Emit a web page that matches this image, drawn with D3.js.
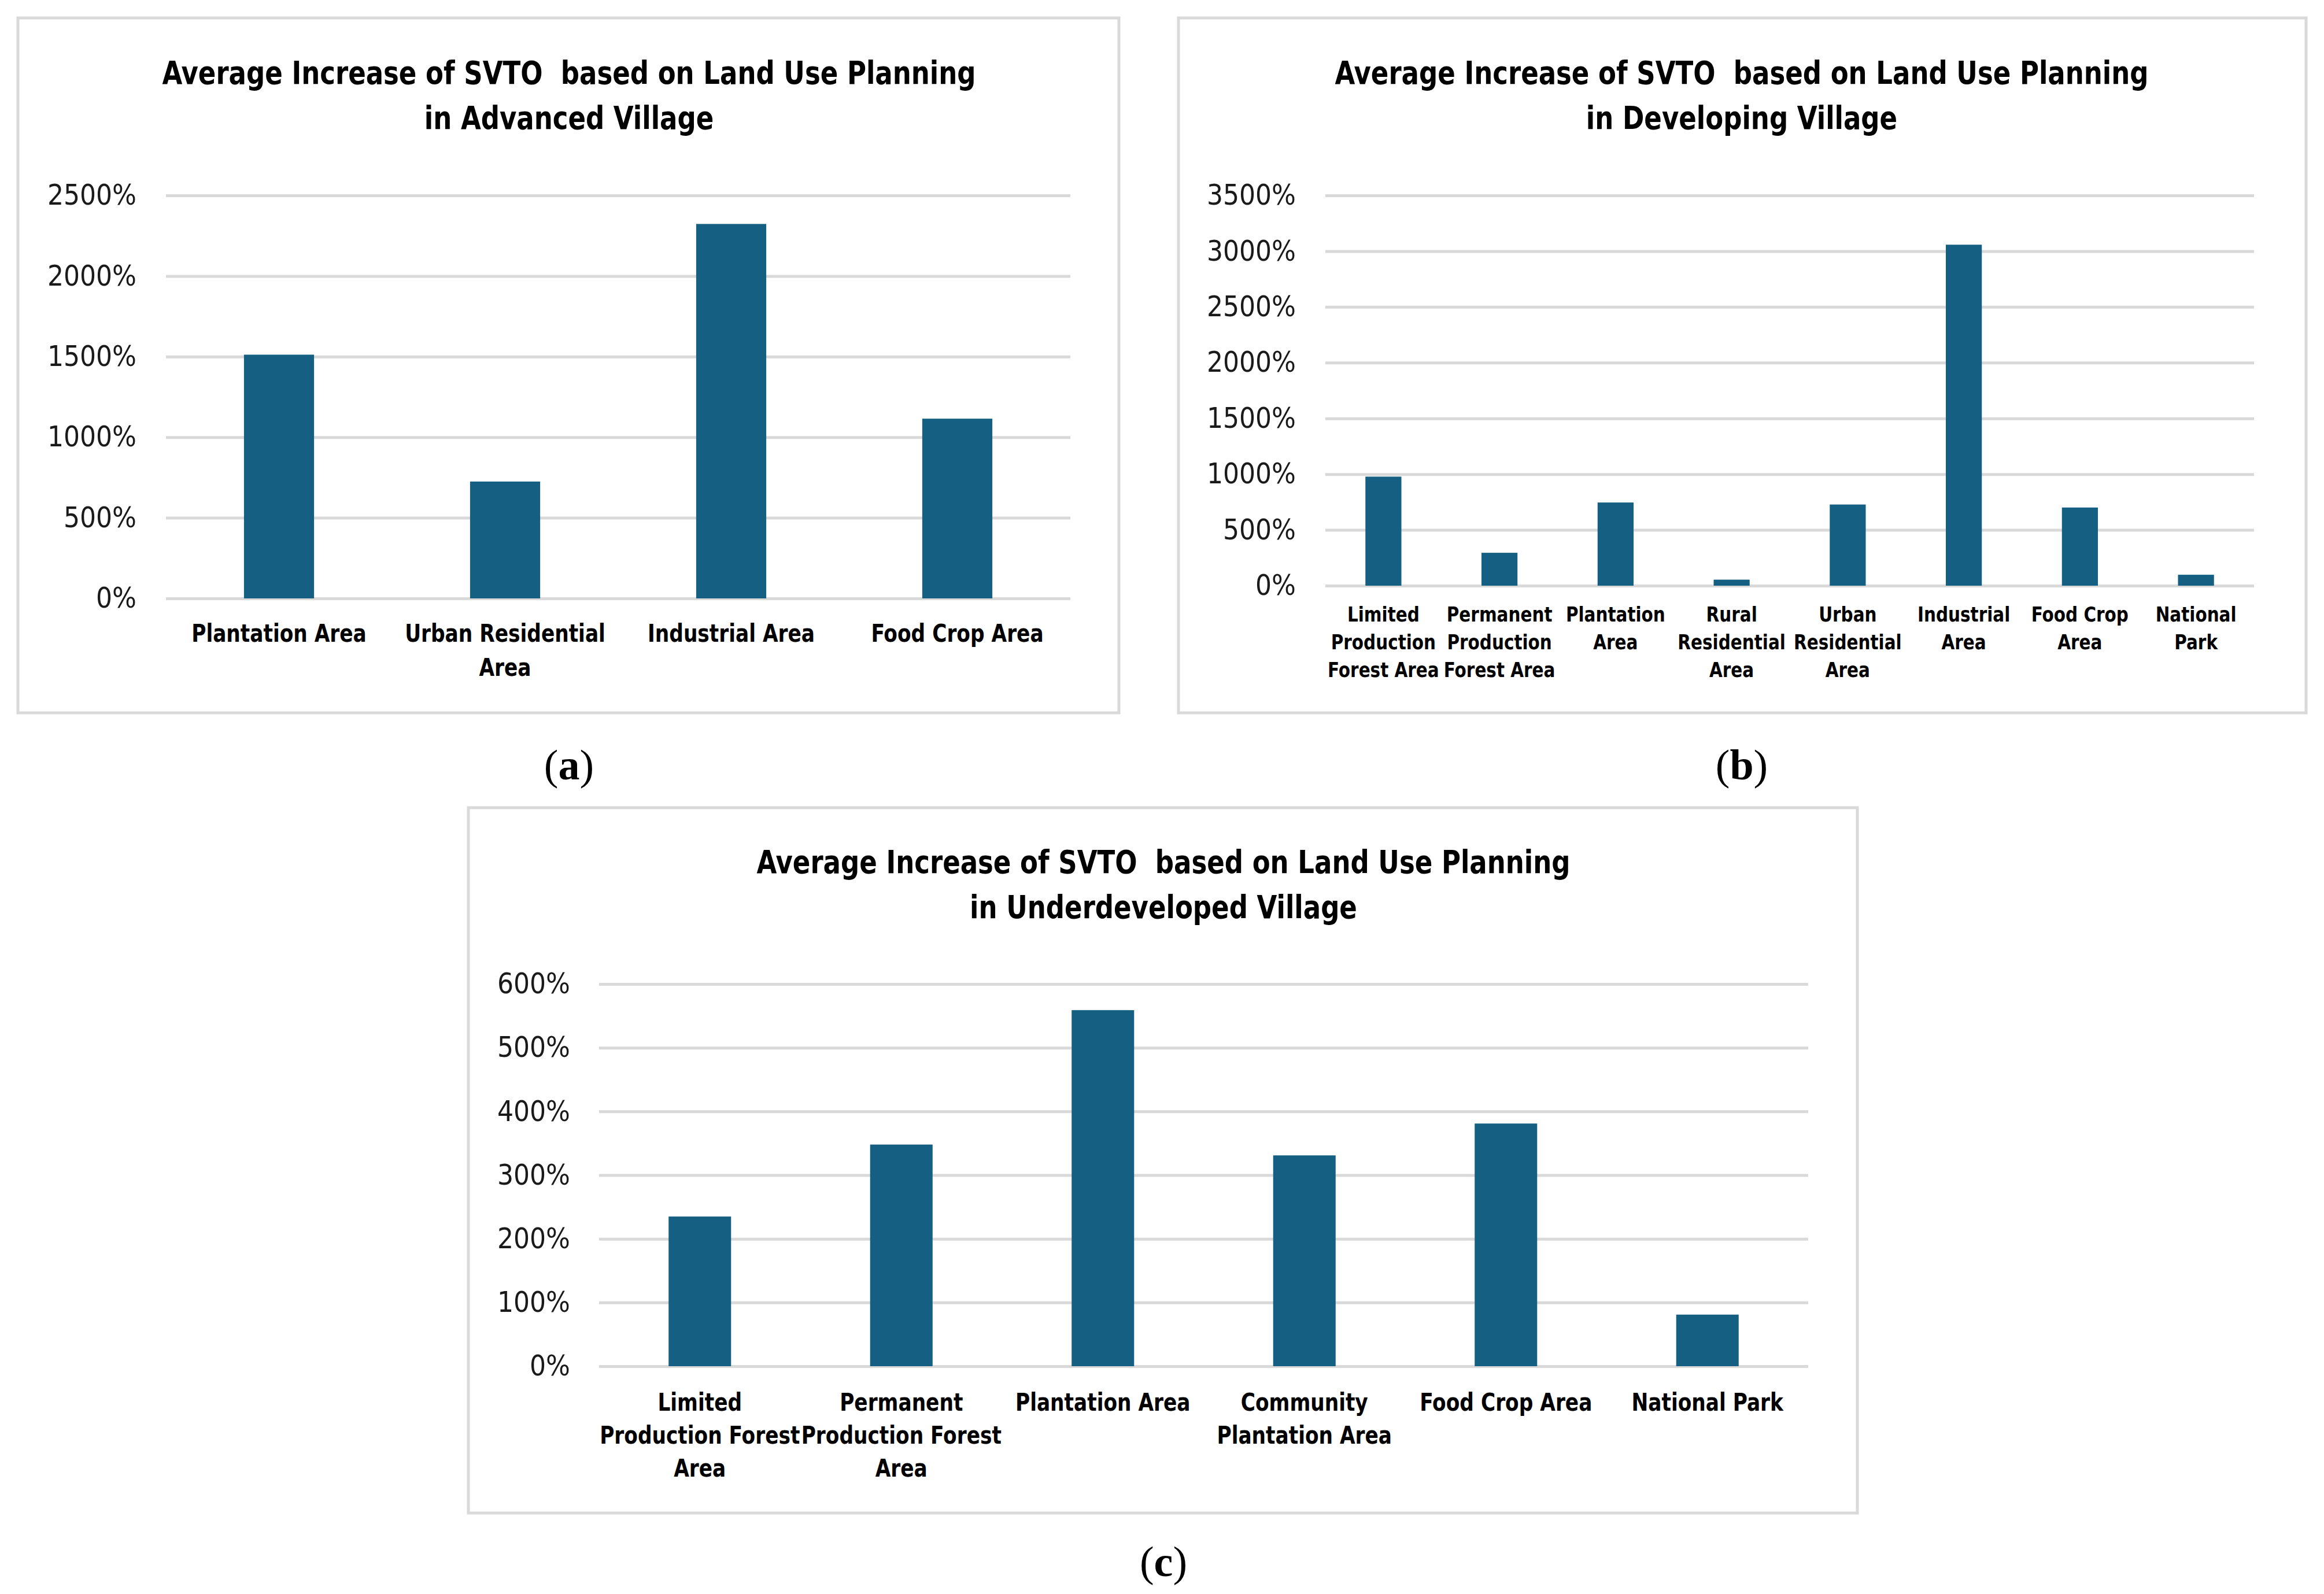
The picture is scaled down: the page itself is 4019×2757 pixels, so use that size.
<!DOCTYPE html>
<html>
<head>
<meta charset="utf-8">
<script src="https://cdn.jsdelivr.net/npm/d3@7"></script>
<style>
  body { margin: 0; background: #fff; }
  text { white-space: pre; }
</style>
</head>
<body>
<svg id="fig" width="4019" height="2757"></svg>
<script>
// panel (a) advanced village
var catsA = ["Plantation Area", "Urban Residential\nArea", "Industrial Area", "Food Crop Area"];
var valsA = [1512, 725, 2323, 1115];
var ticksA = [0, 500, 1000, 1500, 2000, 2500];

// panel (b) developing village
var catsB = ["Limited\nProduction\nForest Area", "Permanent\nProduction\nForest Area", "Plantation\nArea",
  "Rural\nResidential\nArea", "Urban\nResidential\nArea", "Industrial\nArea", "Food Crop\nArea", "National\nPark"];
var valsB = [978, 295, 746, 54, 728, 3058, 701, 98];
var ticksB = [0, 500, 1000, 1500, 2000, 2500, 3000, 3500];

// panel (c) underdeveloped village
var catsC = ["Limited\nProduction Forest\nArea", "Permanent\nProduction Forest\nArea", "Plantation Area",
  "Community\nPlantation Area", "Food Crop Area", "National Park"];
var valsC = [235, 348, 559, 331, 381, 81];
var ticksC = [0, 100, 200, 300, 400, 500, 600];

var titleTop = "Average Increase of SVTO  based on Land Use Planning";

var svg = d3.select("#fig");
var barColor = "#156082",
  gridColor = "#d9d9d9",
  boldFont = "'DejaVu Sans Condensed', 'DejaVu Sans', sans-serif",
  tickFont = "'DejaVu Sans Condensed', 'DejaVu Sans', sans-serif",
  squeeze = 0.91; // narrow look of the original bold face

function panel(o) {
  var g = svg.append("g");

  g.append("rect")
    .attr("x", o.box[0]).attr("y", o.box[1])
    .attr("width", o.box[2] - o.box[0]).attr("height", o.box[3] - o.box[1])
    .attr("fill", "#fff").attr("stroke", gridColor).attr("stroke-width", 5);

  g.selectAll("text.title")
    .data(o.title)
    .join("text")
    .attr("class", "title")
    .attr("transform", function (d, i) {
      return "translate(" + o.titleX + "," + (o.titleY + i * 78) + ") scale(" + squeeze + ",1)";
    })
    .attr("text-anchor", "middle")
    .attr("font-family", boldFont)
    .attr("font-stretch", "condensed")
    .attr("font-weight", "bold")
    .attr("font-size", 55)
    .attr("fill", "#000")
    .text(function (d) { return d; });

  var x = d3.scaleBand()
    .domain(o.cats)
    .range([o.plot[0], o.plot[1]])
    .paddingInner(0.69)
    .paddingOuter(0.345);

  var y = d3.scaleLinear()
    .domain([0, d3.max(o.ticks)])
    .range([o.plot[3], o.plot[2]]);

  // gridlines
  g.append("g")
    .attr("transform", "translate(" + o.plot[0] + ",0)")
    .call(d3.axisLeft(y).tickValues(o.ticks).tickSize(-(o.plot[1] - o.plot[0])).tickFormat(""))
    .call(function (a) { a.select(".domain").remove(); })
    .call(function (a) { a.selectAll("line").attr("stroke", gridColor).attr("stroke-width", 5); });

  // tick labels
  g.append("g")
    .attr("transform", "translate(" + o.tickX + ",0)")
    .call(d3.axisLeft(y).tickValues(o.ticks).tickSize(0).tickPadding(0).tickFormat(function (d) { return d + "%"; }))
    .call(function (a) { a.select(".domain").remove(); })
    .call(function (a) {
      a.selectAll("text")
        .attr("font-family", tickFont)
        .attr("font-stretch", "condensed")
        .attr("font-size", 49)
        .attr("fill", "#1a1a1a");
    });

  // bars
  g.selectAll("rect.bar")
    .data(o.vals)
    .join("rect")
    .attr("class", "bar")
    .attr("x", function (d, i) { return x(o.cats[i]); })
    .attr("y", function (d) { return y(d); })
    .attr("width", x.bandwidth())
    .attr("height", function (d) { return y(0) - y(d); })
    .attr("fill", barColor);

  // category labels, wrapped like the original
  var xa = g.append("g")
    .attr("transform", "translate(0," + o.plot[3] + ")")
    .call(d3.axisBottom(x).tickSize(0).tickFormat(""));
  xa.select(".domain").remove();
  xa.selectAll(".tick text").remove();
  xa.selectAll(".tick").each(function (d) {
    var t = d3.select(this).append("text")
      .attr("transform", "scale(" + squeeze + ",1)")
      .attr("text-anchor", "middle")
      .attr("font-family", boldFont)
      .attr("font-stretch", "condensed")
      .attr("font-weight", "bold")
      .attr("font-size", o.labSize)
      .attr("fill", "#000");
    d.split("\n").forEach(function (s, i) {
      t.append("tspan").attr("x", 0).attr("y", o.labY + i * o.labStep).text(s);
    });
  });

  // caption letter
  var c = svg.append("text")
    .attr("x", o.titleX)
    .attr("y", o.capY)
    .attr("text-anchor", "middle")
    .attr("font-family", "'Liberation Serif', 'DejaVu Serif', serif")
    .attr("font-size", 74)
    .attr("fill", "#000");
  c.append("tspan").text("(");
  c.append("tspan").attr("font-weight", "bold").text(o.letter);
  c.append("tspan").text(")");
}

panel({
  box: [31, 31, 1935, 1233],
  title: [titleTop, "in Advanced Village"],
  titleX: 984, titleY: 145,
  plot: [287, 1851, 338, 1035],
  tickX: 236,
  cats: catsA, vals: valsA, ticks: ticksA,
  labSize: 42, labY: 75, labStep: 59,
  letter: "a", capY: 1348
});

panel({
  box: [2038, 31, 3988, 1233],
  title: [titleTop, "in Developing Village"],
  titleX: 3012, titleY: 145,
  plot: [2292, 3898, 338, 1013],
  tickX: 2241,
  cats: catsB, vals: valsB, ticks: ticksB,
  labSize: 36, labY: 62, labStep: 48,
  letter: "b", capY: 1348
});

panel({
  box: [810, 1397, 3212, 2617],
  title: [titleTop, "in Underdeveloped Village"],
  titleX: 2012, titleY: 1510,
  plot: [1036, 3127, 1702, 2363],
  tickX: 986,
  cats: catsC, vals: valsC, ticks: ticksC,
  labSize: 42, labY: 77, labStep: 57,
  letter: "c", capY: 2726
});
</script>
</body>
</html>
